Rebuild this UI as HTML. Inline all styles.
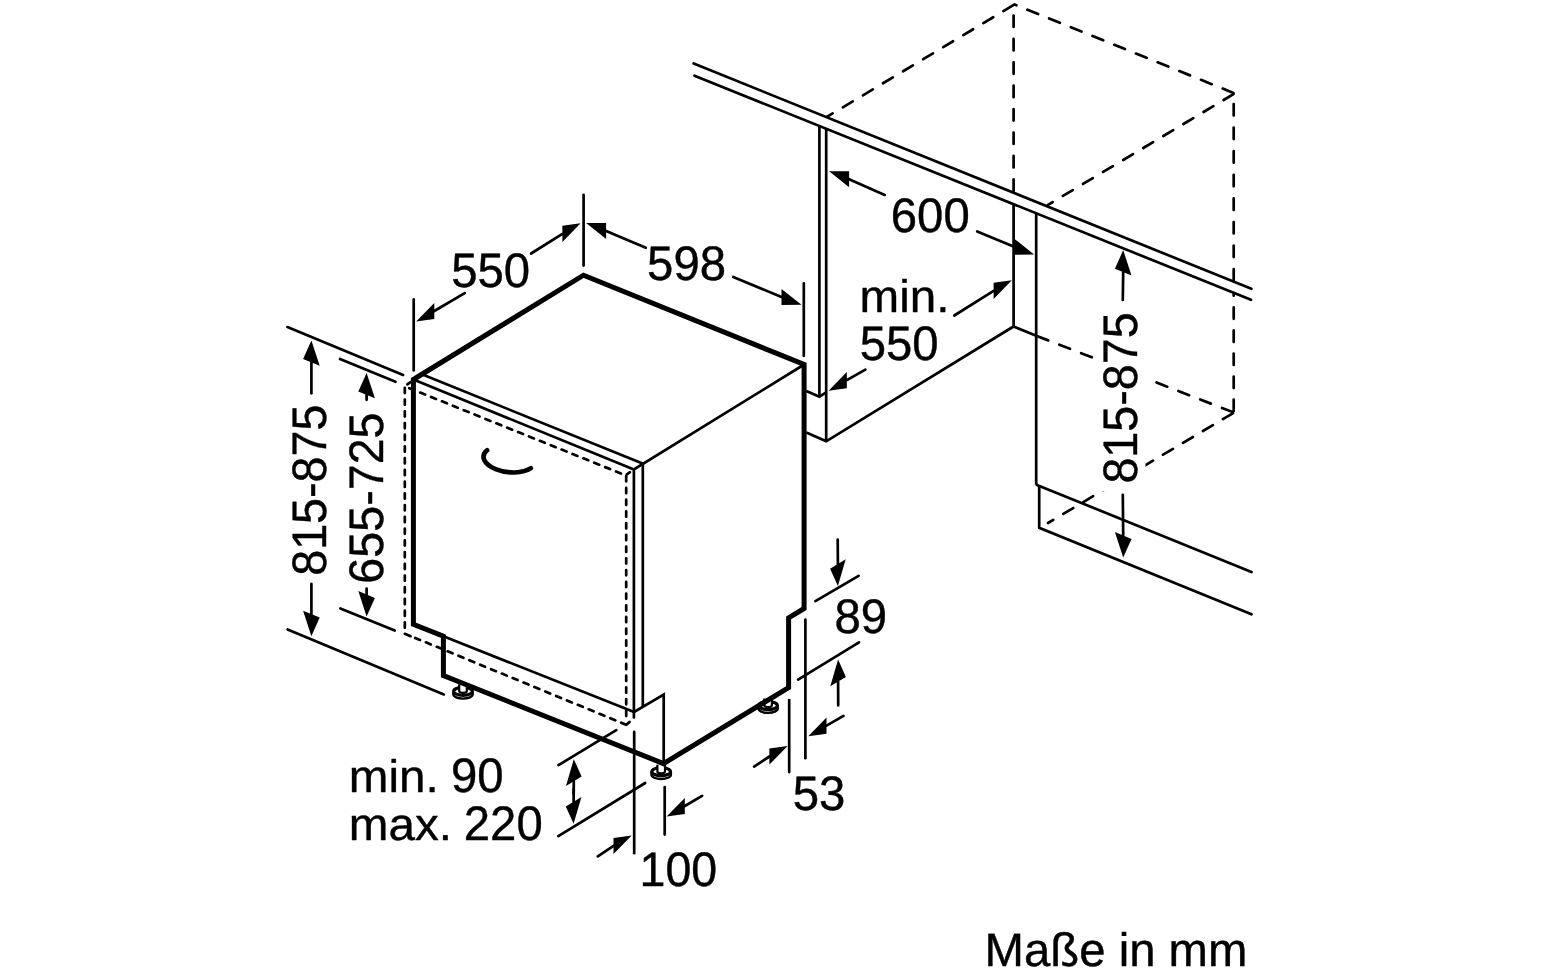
<!DOCTYPE html>
<html lang="de"><head><meta charset="utf-8"><title>Maße in mm</title>
<style>
html,body{margin:0;padding:0;background:#fff;overflow:hidden}
svg{display:block;will-change:transform;filter:grayscale(1)}
path,ellipse{fill:none;stroke:#000}
.f path,.f ellipse{fill:#fff}
.a{fill:#000;stroke:none}
text{font-family:"Liberation Sans",Arial,Helvetica,sans-serif;font-size:47px;fill:#000;stroke:#000;stroke-width:.4px;stroke-linejoin:round;text-rendering:geometricPrecision}
</style>
</head><body>
<svg width="1542" height="971" viewBox="0 0 1542 971">
<rect width="1542" height="971" fill="#fff"/>
<path d="M1013.3 5.2L827.2 116.7" stroke-width="2.7" stroke-linecap="round" stroke-dasharray="11.5 11.9"/>
<path d="M1233.4 92.9L1014.5 4.5" stroke-width="2.7" stroke-linecap="round" stroke-dasharray="11.5 11.9"/>
<path d="M1233.5 94.1L1047.9 204.9" stroke-width="2.7" stroke-linecap="round" stroke-dasharray="11.5 11.9"/>
<path d="M1013.6 15.5L1013.6 192.5" stroke-width="2.7" stroke-linecap="round" stroke-dasharray="11.5 11.9"/>
<path d="M1233.7 104L1233.7 281.8" stroke-width="2.7" stroke-linecap="round" stroke-dasharray="11.5 12.1"/>
<path d="M1233.7 411.2L1233.7 293" stroke-width="2.7" stroke-linecap="round" stroke-dasharray="11.5 11.6"/>
<path d="M1037.5 336.2L1100 360.5" stroke-width="2.7" stroke-linecap="round" stroke-dasharray="11.5 11.9"/>
<path d="M1232.7 412.1L1146 378.4" stroke-width="2.7" stroke-linecap="round" stroke-dasharray="11.5 11.9"/>
<path d="M1232.8 413.3L1048 523" stroke-width="2.7" stroke-linecap="round" stroke-dasharray="11.5 11.7"/>
<rect x="1100" y="306" width="45.5" height="185.5" fill="#fff" stroke="none"/>
<path d="M693.7 63.5L1251.4 288.8" stroke-width="2.7" stroke-linecap="round"/>
<path d="M694.5 75.7L1251 299.8" stroke-width="2.7" stroke-linecap="round"/>
<path d="M819.4 126L819.4 396.6" stroke-width="2.7"/>
<path d="M826.2 129L826.2 441.3" stroke-width="2.7"/>
<path d="M806.3 390.9L819.4 396.7L826.2 392.3" stroke-width="2.7"/>
<path d="M806.3 432.5L826.2 441.3L1013.5 326.5" stroke-width="2.7"/>
<path d="M1013.6 204L1013.6 326.5" stroke-width="2.7"/>
<path d="M1013.5 326.5L1036.2 335.7" stroke-width="2.7"/>
<path d="M1036.2 213.3L1036.2 484.6" stroke-width="2.7"/>
<path d="M1036.9 484.9L1251.5 572" stroke-width="2.7" stroke-linecap="round"/>
<path d="M1039.2 486.9L1039.2 527.8L1251.5 614.3" stroke-width="2.7" stroke-linecap="round"/>
<g transform="translate(463 691.3)" class="f"><path d="M-9.7 0V3A9.7 4.3 0 0 0 9.7 3V0" stroke-width="2.4"/><ellipse rx="9.3" ry="4" stroke-width="3.2"/><path d="M-3.8 -7V-.3A3.8 1.9 0 0 0 3.8 -.3V-7" stroke-width="2.2"/></g>
<g transform="translate(768.1 705.6)" class="f"><path d="M-9.7 0V3A9.7 4.3 0 0 0 9.7 3V0" stroke-width="2.4"/><ellipse rx="9.3" ry="4" stroke-width="3.2"/><path d="M-3.8 -7V-.3A3.8 1.9 0 0 0 3.8 -.3V-7" stroke-width="2.2"/></g>
<g transform="translate(661.2 771.7)" class="f"><path d="M-9.7 0V3A9.7 4.3 0 0 0 9.7 3V0" stroke-width="2.4"/><ellipse rx="9.3" ry="4" stroke-width="3.2"/><path d="M-3.8 -7V-.3A3.8 1.9 0 0 0 3.8 -.3V-7" stroke-width="2.2"/></g>
<path d="M404.8 387.8L404.8 634" stroke-width="2.7" stroke-linecap="round" stroke-dasharray="5.3 6.43"/>
<path d="M626.2 476.2L626.2 718" stroke-width="2.7" stroke-linecap="round" stroke-dasharray="5.3 6.43"/>
<path d="M420.2 392.6L626.2 475.6" stroke-width="2.7" stroke-linecap="round" stroke-dasharray="5.3 6.43"/>
<path d="M409.2 388.2L411 388.9" stroke-width="2.7" stroke-linecap="round"/>
<path d="M415.1 637.9L626.3 724.8" stroke-width="2.7" stroke-linecap="round" stroke-dasharray="5.3 6.43"/>
<path d="M404.8 633.8L410.6 636.2" stroke-width="2.7" stroke-linecap="round"/>
<path d="M626.3 724.8L629.5 722" stroke-width="2.7" stroke-linecap="round"/>
<path d="M407.3 384.3L411 381.8" stroke-width="2.7" stroke-linecap="round"/>
<path d="M626.8 474.4L630 472.2" stroke-width="2.7" stroke-linecap="round"/>
<path d="M421.9 374.3L643.2 463.7L804.2 364.5" stroke-width="2.7"/>
<path d="M413.4 379.5L633.9 469.5L643.2 463.7" stroke-width="2.7"/>
<path d="M633.9 470.9L633.9 717.4" stroke-width="2.7" stroke-linecap="round"/>
<path d="M642.8 463.7L642.8 706.5" stroke-width="2.7"/>
<path d="M443.4 636.3L634.1 711.9L663.7 694.7L663.7 763" stroke-width="2.7"/>
<path d="M413.4 624.4L413.4 379.5L583.5 275.2L804.1 364.5L804.1 608.5L788.6 617.8L788.6 687.6L663.5 763.6L443.4 675.5L443.4 636.3Z" stroke-width="5.0"/>
<path d="M487.1 450.3A26.07 13.33 6.3 0 0 530.9 468.2" stroke-width="4.6" stroke-linecap="round"/>
<path d="M583.6 194.8L583.6 265.6" stroke-width="2.7" stroke-linecap="round"/>
<path d="M413.7 299.4L413.7 370.4" stroke-width="2.7" stroke-linecap="round"/>
<path d="M464.7 293.2L434.3 311" stroke-width="2.7" stroke-linecap="round"/>
<polygon class="a" points="416.1,321.5 434.3,319 434.3,302.9"/>
<path d="M531.1 253.5L562.4 233.8" stroke-width="2.7" stroke-linecap="round"/>
<polygon class="a" points="580.6,223.3 562.4,241.9 562.4,225.8"/>
<path d="M803.8 283.4L803.8 355.8" stroke-width="2.7" stroke-linecap="round"/>
<path d="M645.8 247.7L606.1 231" stroke-width="2.7" stroke-linecap="round"/>
<polygon class="a" points="586.1,223.1 606.1,239.1 606.1,222.9"/>
<path d="M733.2 277L781.5 296.9" stroke-width="2.7" stroke-linecap="round"/>
<polygon class="a" points="801.5,304.8 781.5,305 781.5,288.9"/>
<path d="M884.7 194.9L849.1 179.2" stroke-width="2.7" stroke-linecap="round"/>
<polygon class="a" points="829.1,171.3 849.1,187.3 849.1,171.2"/>
<path d="M977.2 231.5L1014.1 246.7" stroke-width="2.7" stroke-linecap="round"/>
<polygon class="a" points="1034.1,254.6 1014.1,254.8 1014.1,238.6"/>
<path d="M954.3 315.5L993.6 290.8" stroke-width="2.7" stroke-linecap="round"/>
<polygon class="a" points="1011.8,280.3 993.6,298.9 993.6,282.8"/>
<path d="M865.4 369.6L846.8 380.2" stroke-width="2.7" stroke-linecap="round"/>
<polygon class="a" points="828.6,390.7 846.8,388.2 846.8,372.1"/>
<path d="M1122.8 299.9L1123.2 272.1" stroke-width="2.7" stroke-linecap="round"/>
<polygon class="a" points="1123.2,250.1 1131.5,275.5 1114.9,268.7"/>
<path d="M1122.8 494.8L1123.2 535.5" stroke-width="2.7" stroke-linecap="round"/>
<polygon class="a" points="1123.2,557.5 1131.5,538.9 1114.9,532.1"/>
<path d="M287.4 327.1L403.1 374.9" stroke-width="2.7" stroke-linecap="round"/>
<path d="M340 359L395.5 381.8" stroke-width="2.7" stroke-linecap="round"/>
<path d="M287.6 629.4L443.8 694.4" stroke-width="2.7" stroke-linecap="round"/>
<path d="M340.4 608.4L394.7 630.5" stroke-width="2.7" stroke-linecap="round"/>
<path d="M311.4 393.3L311.4 362.4" stroke-width="2.7" stroke-linecap="round"/>
<polygon class="a" points="311.4,340.4 319.7,365.8 303.1,359"/>
<path d="M311.4 583.9L311.4 614.2" stroke-width="2.7" stroke-linecap="round"/>
<polygon class="a" points="311.4,636.2 319.7,617.6 303.1,610.8"/>
<path d="M366.6 399.8L366.6 394.9" stroke-width="2.7" stroke-linecap="round"/>
<polygon class="a" points="366.6,372.9 374.9,398.3 358.3,391.5"/>
<path d="M366.6 588.5L366.6 594.5" stroke-width="2.7" stroke-linecap="round"/>
<polygon class="a" points="366.6,616.5 374.9,597.9 358.3,591.1"/>
<path d="M815.4 601.1L858.6 575.8" stroke-width="2.7" stroke-linecap="round"/>
<path d="M798.1 679.6L859 642.3" stroke-width="2.7" stroke-linecap="round"/>
<path d="M837.7 539.6L837.9 564" stroke-width="2.7" stroke-linecap="round"/>
<polygon class="a" points="837.9,586 845.7,559.3 830.1,568.7"/>
<path d="M838.2 705.5L838.1 681.6" stroke-width="2.7" stroke-linecap="round"/>
<polygon class="a" points="838.1,659.6 845.9,676.9 830.3,686.3"/>
<path d="M789.2 700L789.2 772.1" stroke-width="2.7" stroke-linecap="round"/>
<path d="M805.4 619.6L805.4 758.2" stroke-width="2.7" stroke-linecap="round"/>
<path d="M843.5 715.9L826.5 725.7" stroke-width="2.7" stroke-linecap="round"/>
<polygon class="a" points="808.3,736.2 826.5,733.7 826.5,717.6"/>
<path d="M754.1 766.6L769.4 756.5" stroke-width="2.7" stroke-linecap="round"/>
<polygon class="a" points="787.6,746 769.4,764.6 769.4,748.5"/>
<path d="M634.2 731.9L634.2 853.2" stroke-width="2.7" stroke-linecap="round"/>
<path d="M664.7 787.1L664.7 834.6" stroke-width="2.7" stroke-linecap="round"/>
<path d="M702.1 795.8L684.8 806" stroke-width="2.7" stroke-linecap="round"/>
<polygon class="a" points="666.6,816.5 684.8,814 684.8,797.9"/>
<path d="M597.8 856.3L613.5 845.9" stroke-width="2.7" stroke-linecap="round"/>
<polygon class="a" points="631.7,835.4 613.5,854 613.5,837.9"/>
<path d="M558.5 765.1L616.3 730.1" stroke-width="2.7" stroke-linecap="round"/>
<path d="M558.3 836.1L645.2 783" stroke-width="2.7" stroke-linecap="round"/>
<path d="M573.7 793.7L573.8 781.2" stroke-width="2.7" stroke-linecap="round"/>
<polygon class="a" points="573.8,759.2 581.6,776.5 566,785.9"/>
<path d="M573.7 789.3L573.6 801.8" stroke-width="2.7" stroke-linecap="round"/>
<polygon class="a" points="573.6,823.8 581.4,797.1 565.8,806.5"/>
<text transform="translate(451.2 286.8) scale(1.006 1.03)">550</text>
<text transform="translate(647.1 279.5) scale(1.006 1.03)">598</text>
<text transform="translate(890.8 232.1) scale(1.006 1.03)">600</text>
<text transform="translate(859.6 311.8) scale(1.013 0.97)">min.</text>
<text transform="translate(859.7 359.6) scale(1.006 1.03)">550</text>
<text transform="translate(834.4 632.8) scale(1.006 1.03)">89</text>
<text transform="translate(792.7 809.5) scale(1.006 1.03)">53</text>
<text transform="translate(639.5 886.3) scale(0.99 1.03)">100</text>
<text transform="translate(348.8 792.2) scale(1.013 0.97)">min.</text>
<text transform="translate(451 792.2) scale(1.006 1.03)">90</text>
<text transform="translate(348.8 839.5) scale(1.013 0.97)">max.</text>
<text transform="translate(463.8 839.5) scale(1.006 1.03)">220</text>
<text transform="translate(984.5 966.1) scale(1.007 1.0)">Maße in mm</text>
<text transform="translate(325.5 575.8) rotate(-90) scale(0.993 1.03)">815-875</text>
<text transform="translate(383.4 583.7) rotate(-90) scale(0.993 1.03)">655-725</text>
<text transform="translate(1137.4 483.6) rotate(-90) scale(0.993 1.03)">815-875</text>
</svg>
</body></html>
